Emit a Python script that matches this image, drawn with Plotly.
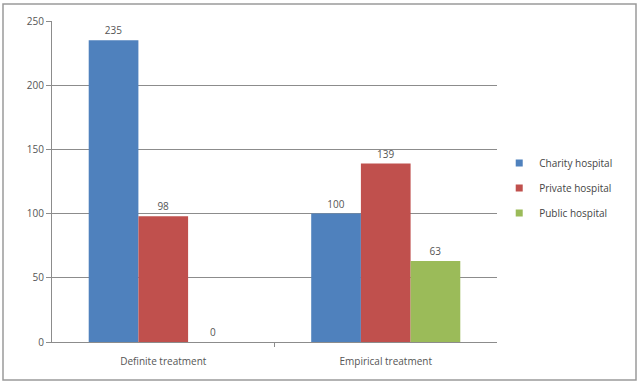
import plotly.graph_objects as go

categories = ["Definite treatment", "Empirical treatment"]
series_names = ["Charity hospital", "Private hospital", "Public hospital"]
charity = [235, 100]
private = [98, 139]
public = [0, 63]
y_ticks = [0, 50, 100, 150, 200, 250]

colors = ["#4F81BD", "#C0504D", "#9BBB59"]
font_family = "Open Sans, DejaVu Sans, sans-serif"

fig = go.Figure()
for name, vals, col in zip(series_names, [charity, private, public], colors):
    fig.add_trace(go.Bar(
        x=categories, y=vals, name=name, showlegend=False,
        marker=dict(color=col, line=dict(width=0)),
        text=[str(v) for v in vals], textposition="outside",
        textfont=dict(size=10, color="#555555", family=font_family),
        cliponaxis=False,
    ))
# small square legend keys
for name, col in zip(series_names, colors):
    fig.add_trace(go.Scatter(
        x=[None], y=[None], mode="markers", name=name, legendgroup=name,
        marker=dict(symbol="square", size=7, color=col),
    ))

fig.update_layout(
    width=639, height=383,
    margin=dict(l=52, r=142, t=21, b=41),
    paper_bgcolor="white", plot_bgcolor="white",
    barmode="group", bargap=0.33, bargroupgap=0,
    font=dict(family=font_family, size=10, color="#555555"),
    showlegend=True,
    legend=dict(x=1.005, y=0.48, xanchor="left", yanchor="middle",
                font=dict(size=10, color="#444444"), traceorder="grouped",
                itemwidth=30, tracegroupgap=6, bgcolor="rgba(0,0,0,0)"),
)
fig.update_yaxes(range=[0, 250], tickvals=y_ticks, showgrid=True,
                 gridcolor="#8c8c8c", gridwidth=1, showline=True,
                 linecolor="#8c8c8c", linewidth=1, ticks="outside",
                 ticklen=5, tickcolor="#8c8c8c", zeroline=False,
                 tickfont=dict(size=10, color="#555555"))
fig.update_xaxes(showline=True, linecolor="#8c8c8c", linewidth=1,
                 ticks="", ticklabelstandoff=10,
                 tickfont=dict(size=10, color="#555555"))

# chart frame
fig.add_shape(type="rect", xref="paper", yref="paper",
              x0=-49 / 445, x1=(636 - 52) / 445,
              y0=-(380 - 342) / 321, y1=(342 - 4) / 321,
              line=dict(color="#9a9a9a", width=1.5))
# divider tick between categories
fig.add_shape(type="line", xref="x", yref="paper", x0=0.5, x1=0.5,
              y0=0, y1=-5 / 321, line=dict(color="#8c8c8c", width=1))

fig.write_html("out.html")
